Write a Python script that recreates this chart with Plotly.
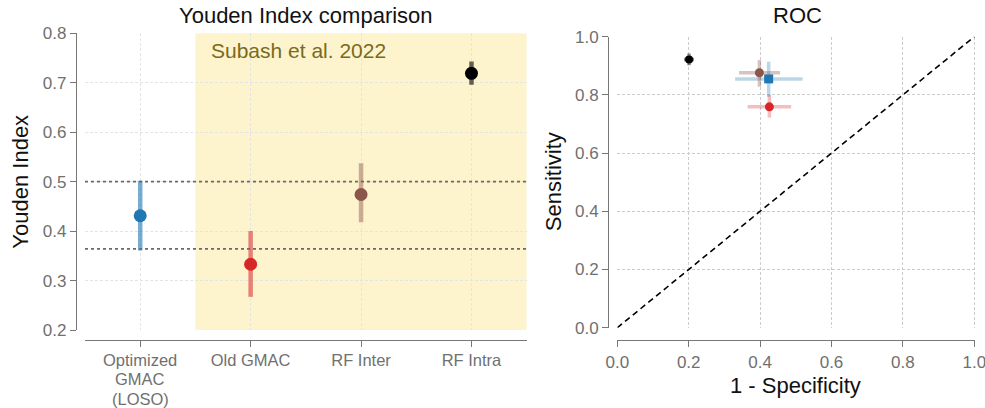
import plotly.graph_objects as go

W, H = 985, 408

# ---------------- data ----------------
categories = ["Optimized GMAC (LOSO)", "Old GMAC", "RF Inter", "RF Intra"]
category_lines = [["Optimized", "GMAC", "(LOSO)"], ["Old GMAC"], ["RF Inter"], ["RF Intra"]]
youden = [0.431, 0.333, 0.474, 0.719]
youden_lo = [0.361, 0.267, 0.418, 0.696]
youden_hi = [0.502, 0.400, 0.537, 0.743]
ref_lines = [0.500, 0.364]

roc_names = ["Optimized GMAC", "Old GMAC", "RF Inter", "RF Intra"]
fpr = [0.424, 0.426, 0.398, 0.201]
fpr_lo = [0.330, 0.365, 0.341, 0.187]
fpr_hi = [0.519, 0.487, 0.456, 0.215]
sens = [0.855, 0.759, 0.876, 0.922]
sens_lo = [0.794, 0.722, 0.828, 0.902]
sens_hi = [0.914, 0.800, 0.920, 0.942]

colors = ["#1f77b4", "#d62728", "#8c564b", "#000000"]
left_err = ["rgba(31,119,180,0.6)", "rgba(214,39,40,0.55)", "rgba(140,86,75,0.45)", "rgba(0,0,0,0.6)"]
right_err = ["rgba(31,119,180,0.3)", "rgba(214,39,40,0.3)", "rgba(140,86,75,0.35)", "rgba(0,0,0,0.45)"]
roc_symbols = ["square", "circle", "circle", "circle"]
roc_sizes = [9, 9, 9, 8]

FONT = "Liberation Sans"
TICK_C = "#707070"
AX_C = "#777777"

def px(x):
    return x / W

def py(y):
    return (H - y) / H

fig = go.Figure()

# ---- left panel ----
for i in range(len(categories)):
    fig.add_trace(go.Scatter(
        x=[categories[i]], y=[youden[i]], mode="markers",
        marker=dict(size=13, color=colors[i]),
        error_y=dict(type="data", symmetric=False,
                     array=[youden_hi[i] - youden[i]],
                     arrayminus=[youden[i] - youden_lo[i]],
                     color=left_err[i], thickness=4.5, width=0),
        xaxis="x", yaxis="y", showlegend=False, cliponaxis=False))

# ---- right panel ----
fig.add_trace(go.Scatter(x=[0, 1], y=[0, 1], mode="lines",
                         line=dict(color="black", width=1.6, dash="6px,4px"),
                         xaxis="x2", yaxis="y2", showlegend=False))
for i in range(len(roc_names)):
    fig.add_trace(go.Scatter(
        x=[fpr[i]], y=[sens[i]], mode="markers",
        marker=dict(size=roc_sizes[i], color=colors[i], symbol=roc_symbols[i]),
        error_x=dict(type="data", symmetric=False,
                     array=[fpr_hi[i] - fpr[i]], arrayminus=[fpr[i] - fpr_lo[i]],
                     color=right_err[i], thickness=3.5, width=0),
        error_y=dict(type="data", symmetric=False,
                     array=[sens_hi[i] - sens[i]], arrayminus=[sens[i] - sens_lo[i]],
                     color=right_err[i], thickness=3.5, width=0),
        xaxis="x2", yaxis="y2", showlegend=False, cliponaxis=False))

tickfont = dict(family=FONT, size=17, color=TICK_C)
catfont = dict(family=FONT, size=16.5, color=TICK_C)
common = dict(showline=True, linecolor=AX_C, linewidth=1.3, ticks="outside",
              ticklen=6, tickcolor=AX_C, tickwidth=1.3,
              zeroline=False, automargin=False)

# panel geometry (pixels)
L_x0, L_x1, L_y0, L_y1 = 85, 526.7, 33.3, 330
R_x0, R_y0, R_y1 = 617.3, 36.7, 327.7
R_xmax = 1.003
R_x1 = R_x0 + 357 * R_xmax

# single-line categories are axis tick labels; the 3-line one is set as stacked text
ticktext = [c[0] if len(c) == 1 else "" for c in category_lines]

fig.update_layout(
    width=W, height=H,
    margin=dict(l=0, r=0, t=0, b=0),
    paper_bgcolor="white", plot_bgcolor="white",
    font=dict(family=FONT),
    xaxis=dict(domain=[px(L_x0), px(L_x1)], anchor="free", position=py(339.5),
               type="category", categoryorder="array", categoryarray=categories,
               tickvals=categories, ticktext=ticktext,
               range=[-0.5, 3.5], showgrid=True, gridcolor="#e4e4e4",
               griddash="3px,2px", gridwidth=1, tickfont=catfont, **common),
    yaxis=dict(domain=[py(L_y1), py(L_y0)], anchor="free", position=px(76),
               range=[0.2, 0.8], tickvals=[0.2, 0.3, 0.4, 0.5, 0.6, 0.7, 0.8],
               tickformat=".1f", showgrid=True, gridcolor="#e4e4e4",
               griddash="3px,2px", gridwidth=1, tickfont=tickfont, **common),
    xaxis2=dict(domain=[px(R_x0), px(R_x1)], anchor="free", position=py(340),
                range=[0, R_xmax], tickvals=[0, 0.2, 0.4, 0.6, 0.8, 1.0],
                tickformat=".1f", showgrid=True, gridcolor="#cccccc",
                griddash="3px,2px", gridwidth=1, tickfont=tickfont,
                ticklabeloverflow="allow", **common),
    yaxis2=dict(domain=[py(R_y1), py(R_y0)], anchor="free", position=px(608.3),
                range=[0, 1.0], tickvals=[0, 0.2, 0.4, 0.6, 0.8, 1.0],
                tickformat=".1f", showgrid=True, gridcolor="#cccccc",
                griddash="3px,2px", gridwidth=1, tickfont=tickfont, **common),
)

for i, lines in enumerate(category_lines):
    if len(lines) > 1:
        for j, line in enumerate(lines):
            fig.add_annotation(text=line, xref="x", yref="paper", x=categories[i],
                               y=py(359.5 + 19.5 * j), xanchor="center", yanchor="middle",
                               showarrow=False, font=catfont, borderpad=0)

# yellow band (Subash et al. 2022)
fig.add_shape(type="rect", xref="x", yref="y domain", x0=0.5, x1=3.5, y0=0, y1=1,
              fillcolor="#fdf3cd", line=dict(width=0), layer="below")
for v in ref_lines:
    fig.add_shape(type="line", xref="x domain", yref="y", x0=0, x1=1, y0=v, y1=v,
                  line=dict(color="#6a6a6a", width=1.6, dash="dot"), layer="above")

fig.add_annotation(text="Subash et al. 2022", xref="x", yref="y", x=0.62, y=0.766,
                   xanchor="left", yanchor="middle", showarrow=False,
                   font=dict(family=FONT, size=21, color="#7a6a1c"))

title_font = dict(family=FONT, size=22, color="#111111")
fig.add_annotation(text="Youden Index comparison", xref="paper", yref="paper",
                   x=px(305.8), y=py(15.5), xanchor="center", yanchor="middle",
                   showarrow=False, font=title_font)
fig.add_annotation(text="ROC", xref="paper", yref="paper",
                   x=px(797), y=py(15.5), xanchor="center", yanchor="middle",
                   showarrow=False, font=title_font)
fig.add_annotation(text="Youden Index", xref="paper", yref="paper",
                   x=px(21), y=py((L_y0 + L_y1) / 2), xanchor="center", yanchor="middle",
                   textangle=-90, showarrow=False, font=title_font)
fig.add_annotation(text="Sensitivity", xref="paper", yref="paper",
                   x=px(553), y=py((R_y0 + R_y1) / 2), xanchor="center", yanchor="middle",
                   textangle=-90, showarrow=False, font=title_font)
fig.add_annotation(text="1 - Specificity", xref="paper", yref="paper",
                   x=px((R_x0 + 974.3) / 2), y=py(385), xanchor="center", yanchor="middle",
                   showarrow=False, font=title_font)

fig.write_html("out.html", config={"displayModeBar": False},
               post_script="document.body.style.margin='0';")
